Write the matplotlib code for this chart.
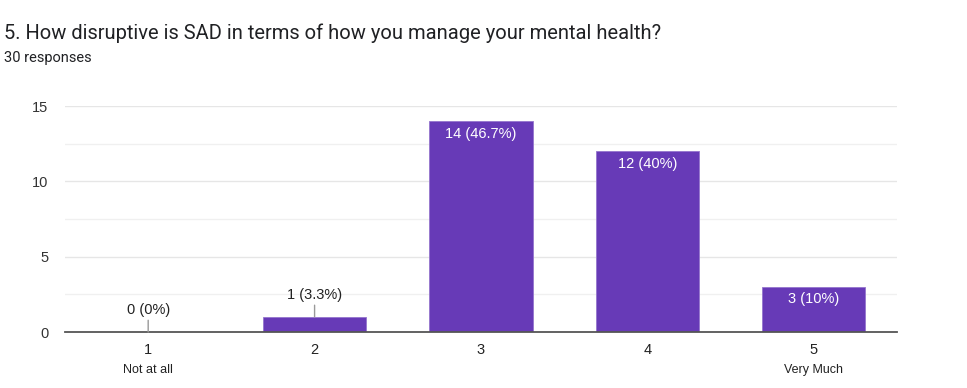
import matplotlib
matplotlib.use("Agg")
from matplotlib import pyplot as plt

plt.rcParams['font.family'] = ['Liberation Sans', 'DejaVu Sans']

categories = ["1", "2", "3", "4", "5"]
sublabels = ["Not at all", "", "", "", "Very Much"]
counts = [0, 1, 14, 12, 3]
total = 30
value_labels = ["0 (0%)", "1 (3.3%)", "14 (46.7%)", "12 (40%)", "3 (10%)"]

purple = "#673ab7"

fig = plt.figure(figsize=(9.67, 3.88), dpi=100)
ax = fig.add_axes([0.0672, 0.1443, 0.8604, 0.5825])

x = list(range(len(categories)))
ax.bar(x, counts, width=0.62, color=purple, edgecolor="#9575cd", linewidth=0.6, zorder=3)

ax.set_xlim(-0.5, len(categories) - 0.5)
ax.set_ylim(0, 15)
ax.set_yticks([0, 5, 10, 15])
ax.set_yticks([2.5, 7.5, 12.5], minor=True)
ax.grid(axis='y', which='major', color="#e6e6e6", linewidth=1, zorder=0)
ax.grid(axis='y', which='minor', color="#f0f0f0", linewidth=1, zorder=0)
ax.tick_params(axis='y', which='both', length=0, labelsize=10.5, colors="#333333", pad=12)
ax.tick_params(axis='x', length=0, labelsize=10.5, colors="#222222", pad=8)
ax.set_xticks(x)
ax.set_xticklabels(categories)

for s in ["top", "left", "right"]:
    ax.spines[s].set_visible(False)
ax.spines["bottom"].set_color("#555555")
ax.spines["bottom"].set_linewidth(1.3)
ax.spines["bottom"].set_zorder(4)

# sublabels under first and last tick
for xi, lab in zip(x, sublabels):
    if lab:
        ax.annotate(lab, (xi, 0), xytext=(0, -27), textcoords="offset points",
                    ha="center", va="center", fontsize=9, color="#222222")

# value labels
for xi, c, lab in zip(x, counts, value_labels):
    if c >= 3:
        ax.annotate(lab, (xi, c), xytext=(0, -9), textcoords="offset points",
                    ha="center", va="center", fontsize=10.5, color="white", zorder=5)
    else:
        ax.annotate(lab, (xi, c), xytext=(0, 15.5), textcoords="offset points",
                    ha="center", va="center", fontsize=10.5, color="#222222",
                    arrowprops=dict(arrowstyle="-", color="#999999", lw=1,
                                    shrinkA=0, shrinkB=0), zorder=5)

fig.text(0.004, 0.915, "5. How disruptive is SAD in terms of how you manage your mental health?",
         fontsize=14.5, color="#202124", va="center", ha="left", family=["Roboto", "DejaVu Sans"])
fig.text(0.004, 0.851, "30 responses", fontsize=10.5, color="#202124", va="center", ha="left",
         family=["Roboto", "DejaVu Sans"])

plt.savefig("out.png", dpi=100)
